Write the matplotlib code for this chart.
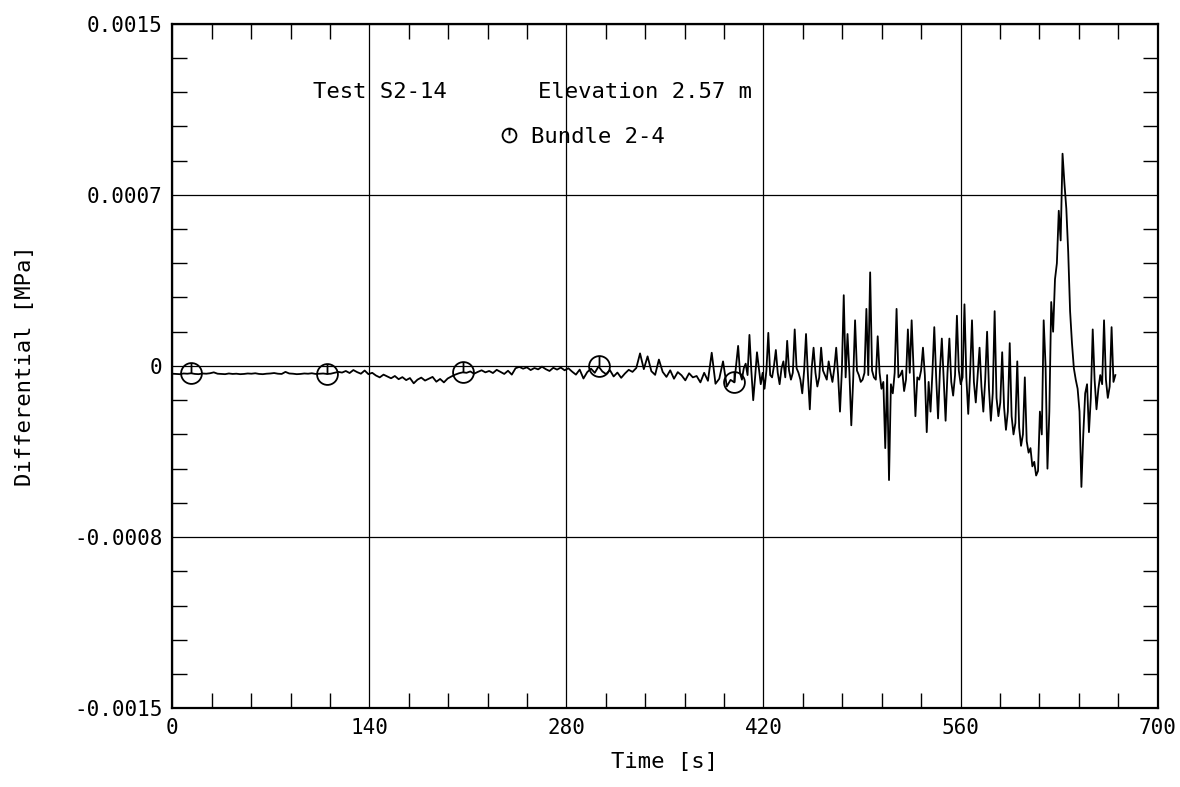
#!/usr/bin/env python3
import numpy as np
import matplotlib
matplotlib.use('Agg')
import matplotlib.pyplot as plt
from matplotlib.path import Path
from matplotlib.lines import Line2D
from matplotlib.ticker import FixedLocator, MultipleLocator

# Differential pressure, in units of 1e-5 MPa.
# Quiet part sampled every DT_SLOW s from t = 0, noisy part every DT_FAST s after it.
DT_SLOW = 2.68
DT_FAST = 1.34
SCALE = 1e-5

dp_0_140 = [-3.4, -3.5, -3.6, -3.3, -3.4, -3.2, -3.5, -3.6, -3.3, -3.4,
            -3.2, -2.8, -3.4, -3.5, -3.6, -3.3, -3.5, -3.4, -3.6, -3.5,
            -3.3, -3.4, -3.2, -3.5, -3.6, -3.4, -3.3, -3.1, -3.4, -3.5,
            -2.6, -3.3, -3.4, -3.6, -3.5, -3.3, -3.4, -3.2, -3.5, -3.4,
            -3.3, -3.5, -3.4, -3.0, -2.6, -2.9, -2.2, -3.1, -1.8, -2.7, -3.4, -2.0, -3.6]
dp_140_280 = [-3.0, -4.2, -5.0, -3.8, -4.6, -5.4, -4.4, -5.8, -4.9, -6.2,
              -5.3, -7.6, -6.0, -5.1, -6.4, -5.6, -4.8, -6.9, -5.7, -7.2,
              -5.5, -4.6, -3.8, -3.2, -2.8, -3.0, -2.4, -3.4, -2.6, -1.9,
              -2.8, -2.2, -3.1, -1.7, -2.6, -3.5, -2.1, -3.8, -1.0, -0.4,
              -1.2, -0.6, -1.8, -0.9, -1.5, -0.3, -1.4, -2.2, -0.8, -1.6, -0.7, -1.9]
dp_280_400 = [-1.0, -2.5, -3.8, -1.6, -5.5, -2.7, -1.2, -3.0, -0.2, -2.4,
              -3.6, -1.8, -4.6, -2.9, -5.2, -3.3, -1.7, -2.6, -0.9, 5.5,
              -1.4, 4.2, -2.3, -3.9, 2.8, -2.6, -4.8, -1.9, -5.6, -2.7,
              -4.1, -6.3, -3.2, -5.0, -4.4, -7.2, -3.0, -6.5, 5.8, -7.8,
              -5.6, 2.0, -9.0, -6.1, -7.2]
# noisy part: spike value followed by band value
dp_400_560 = [8.8, -3, -6, -1, 1, -4, 13.6, -2, -15, -5, 6, -1, -8, -3, -10, -2, 14.5, -4, -5, 0,
              7, -3, -8, -1, 2, -5, 11, -2, -6, -3, 16, -1, -3, -6, -12, -2, 14, -4, -19, -1,
              8, -3, -9, -5, 8, -2, -4, -6, 2, -3, -7, -1, 8, -4, -20, -2, 31, -5, 14, -3,
              -26, -6, 20, -2, -4, -7, -6, -3, 25, -4, 41, -2, -5, -6, 13, -3, -10, -7, -36, -4,
              -50, -8, -12, -3, 25, -5, -4, -2, -11, -6, 16, -3, 20, -1, -22, -5, -6, -2, 8, -4,
              -29, -7, -20, -3, 17, -5, -23, -2, 12, -6, -24, -3, 12, -7, -13, -4, 22, -2, -8, -5]
dp_560_670 = [27, -5, -21, -3, 20, -7, -16, -4, 8, -9, -20, -6, 15, -10, -24, -12, 24, -14, -22, -16,
              6, -18, -28, -20, 10, -22, -30, -25, 2, -27, -35, -30, -5, -33, -38, -36, -44, -42, -48, -46,
              -20, -30, 20, 0, -45, -20, 28, 15, 38, 45, 68, 55, 93, 80, 69, 50, 24, 10, -1, -6,
              -10, -20, -53, -30, -12, -8, -29, -14, 16, -6, -19, -10, -4, -8, 20, -6, -14, -9, 17, -7, -4]

# sample indices carrying the bundle symbol
MARKER_IDX = [5, 41, 77, 113, 149]

XTICKS = [0, 140, 280, 420, 560, 700]
YTICKS = [-0.0015, -0.00075, 0, 0.00075, 0.0015]
YTICK_LABELS = ['-0.0015', '-0.0008', '0', '0.0007', '0.0015']

MONO = 'DejaVu Sans Mono'


def bundle_marker():
    # circle with a stroke from the centre up to the rim
    stem = Path([[0, 0], [0, 1]], [Path.MOVETO, Path.LINETO])
    return Path.make_compound_path(Path.unit_circle(), stem)


def main():
    slow = dp_0_140 + dp_140_280 + dp_280_400
    fast = dp_400_560 + dp_560_670
    dp = np.array(slow + fast) * SCALE
    t_slow = np.arange(len(slow)) * DT_SLOW
    t_fast = len(slow) * DT_SLOW + np.arange(len(fast)) * DT_FAST
    t = np.concatenate([t_slow, t_fast])

    fig = plt.figure(figsize=(11.8, 7.87), dpi=100)
    ax = fig.add_axes([0.146, 0.100, 0.835, 0.870])

    mk = bundle_marker()
    ax.plot(t, dp, color='black', lw=1.3, marker=mk, markevery=MARKER_IDX,
            markersize=15, markerfacecolor='none', markeredgecolor='black',
            markeredgewidth=1.3)

    ax.set_xlim(0, 700)
    ax.set_ylim(-0.0015, 0.0015)
    ax.xaxis.set_major_locator(FixedLocator(XTICKS))
    ax.xaxis.set_minor_locator(MultipleLocator(28))
    ax.yaxis.set_major_locator(FixedLocator(YTICKS))
    ax.yaxis.set_minor_locator(MultipleLocator(0.00015))
    ax.set_xticklabels([str(v) for v in XTICKS], family=MONO, fontsize=15)
    ax.set_yticklabels(YTICK_LABELS, family=MONO, fontsize=15)
    ax.tick_params(which='both', direction='in', top=True, right=True)
    ax.tick_params(which='major', length=0, pad=7)
    ax.tick_params(which='minor', length=11, width=1.0)

    ax.grid(which='major', color='black', lw=0.9)
    for s in ax.spines.values():
        s.set_linewidth(1.6)

    ax.set_xlabel('Time [s]', family=MONO, fontsize=16, labelpad=10)
    ax.set_ylabel('Differential [MPa]', family=MONO, fontsize=16, labelpad=28)

    ax.text(0.143, 0.891, 'Test S2-14', transform=ax.transAxes,
            family=MONO, fontsize=16, va='baseline')
    ax.text(0.371, 0.891, 'Elevation 2.57 m', transform=ax.transAxes,
            family=MONO, fontsize=16, va='baseline')

    handle = Line2D([], [], ls='none', marker=mk, markersize=10,
                    markerfacecolor='none', markeredgecolor='black', markeredgewidth=1.3)
    ax.legend([handle], ['Bundle 2-4'], loc='center left',
              bbox_to_anchor=(0.31, 0.835), frameon=False,
              handlelength=1.0, handletextpad=0.5,
              prop={'family': MONO, 'size': 16})

    fig.savefig('out.png', dpi=100)


if __name__ == '__main__':
    main()
